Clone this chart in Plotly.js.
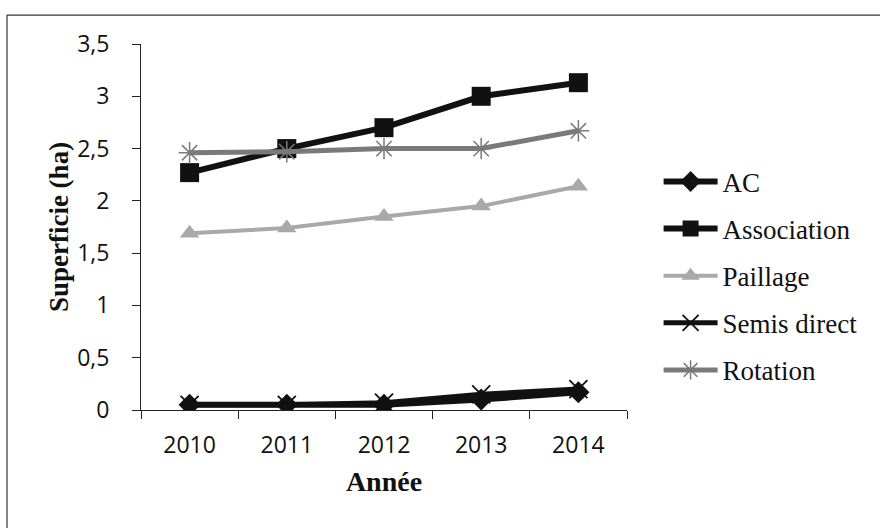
<!DOCTYPE html>
<html>
<head>
<meta charset="utf-8">
<script src="https://cdn.plot.ly/plotly-3.0.1.min.js"></script>
<style>
  html, body { margin: 0; padding: 0; background: #fff; }
  #chart { width: 880px; height: 528px; }
</style>
</head>
<body>
<div id="chart"></div>
<script>
// Surface (ha) by year and by practice
const years = ['2010', '2011', '2012', '2013', '2014'];
const ac = [0.05, 0.05, 0.05, 0.10, 0.17];
const association = [2.27, 2.50, 2.70, 3.00, 3.13];
const paillage = [1.69, 1.74, 1.85, 1.95, 2.14];
const semisDirect = [0.05, 0.05, 0.07, 0.15, 0.20];
const rotation = [2.46, 2.47, 2.50, 2.50, 2.67];
const yTicks = [0, 0.5, 1, 1.5, 2, 2.5, 3, 3.5];

function series(name, y, color, width, symbol, size, mline) {
  return {
    type: 'scatter', mode: 'lines+markers', name: name, x: years, y: y,
    legendgroup: name,
    line: { color: color, width: width },
    marker: { symbol: symbol, size: size, color: color,
              line: mline || { width: 0 } }
  };
}

const traces = [
  series('AC', ac, '#111111', 6, 'diamond', 17),
  series('Association', association, '#111111', 6, 'square', 19),
  series('Paillage', paillage, '#a9a9a9', 4, 'triangle-up', 17),
  series('Semis direct', semisDirect, '#111111', 5, 'x-thin-open', 18, { color: '#111111', width: 1.8 }),
  series('Rotation', rotation, '#7a7a7a', 5, 'asterisk-open', 18, { color: '#444444', width: 1.5 })
];

const layout = {
  width: 880, height: 528,
  margin: { l: 141, r: 253, t: 44, b: 118 },
  paper_bgcolor: '#ffffff', plot_bgcolor: '#ffffff',
  separators: ', ',
  showlegend: true,
  legend: {
    x: 1.065, xanchor: 'left', y: 0.69, yanchor: 'top',
    traceorder: 'grouped', tracegroupgap: 9, itemwidth: 54,
    borderwidth: 0,
    font: { family: 'Liberation Serif, Times New Roman, serif', size: 27, color: '#111' },
    bgcolor: 'rgba(0,0,0,0)'
  },
  xaxis: {
    type: 'category', range: [-0.5, 4.5], tickson: 'boundaries',
    showline: true, linecolor: '#222', linewidth: 1,
    ticks: 'outside', ticklen: 8, tickcolor: '#222',
    showgrid: false, zeroline: false,
    ticklabelstandoff: 14,
    tickfont: { family: 'Open Sans, sans-serif', size: 23, color: '#111' },
    title: { text: '<b>Année</b>', standoff: 12,
             font: { family: 'Liberation Serif, Times New Roman, serif', size: 28, color: '#111' } }
  },
  yaxis: {
    range: [0, 3.5], tickvals: yTicks, tickformat: '.1~f',
    showline: true, linecolor: '#222', linewidth: 1,
    ticks: 'outside', ticklen: 8, tickcolor: '#222',
    showgrid: false, zeroline: false,
    ticklabelstandoff: 18,
    tickfont: { family: 'Open Sans, sans-serif', size: 23, color: '#111' },
    title: { text: '<b>Superficie (ha)</b>', standoff: 0,
             font: { family: 'Liberation Serif, Times New Roman, serif', size: 27, color: '#111' } }
  },
  shapes: [
    // frame around the chart area
    { type: 'line', xref: 'paper', yref: 'paper',
      x0: -0.2757, x1: 1.6, y0: 1.079, y1: 1.079,
      line: { color: '#333', width: 1.2 } },
    { type: 'line', xref: 'paper', yref: 'paper',
      x0: -0.2757, x1: -0.2757, y0: 1.079, y1: -0.4,
      line: { color: '#333', width: 1.2 } }
  ]
};

Plotly.newPlot('chart', traces, layout, { displayModeBar: false, staticPlot: true });
</script>
</body>
</html>
